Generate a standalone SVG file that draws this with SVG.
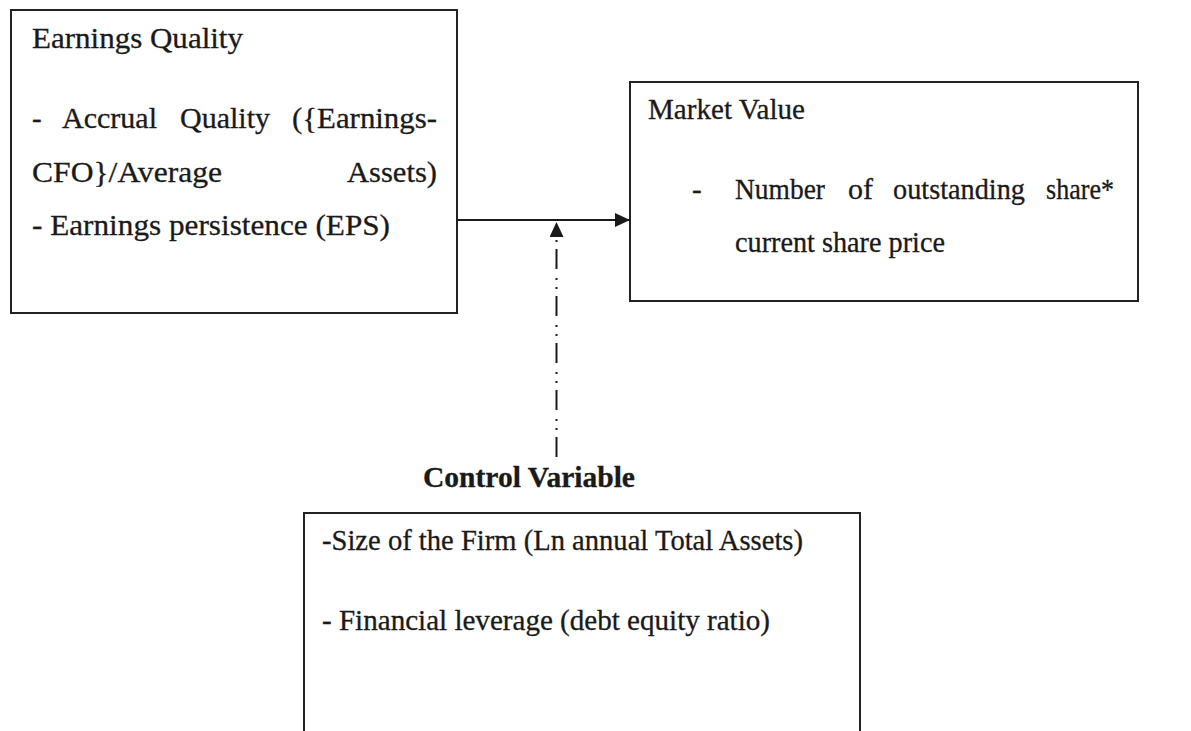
<svg xmlns="http://www.w3.org/2000/svg" width="1191" height="731" viewBox="0 0 1191 731">
  <style>
    .box { fill: none; stroke: #222222; stroke-width: 2; }
    .txt { font-family: "Liberation Serif", "Times New Roman", serif; font-size: 29px; fill: #1a1a1a; stroke: #1a1a1a; stroke-width: 0.3; }
    .bold { font-weight: bold; }
    .link { stroke: #1a1a1a; stroke-width: 2; fill: none; }
  </style>
  <defs>
    <marker id="head" viewBox="0 0 15 14" refX="15" refY="7" markerWidth="15" markerHeight="14" markerUnits="userSpaceOnUse" orient="auto">
      <path d="M0,0 L15,7 L0,14 Z" fill="#1a1a1a"/>
    </marker>
  </defs>
  <rect width="1191" height="731" fill="#ffffff"/>

  <g id="earnings-quality">
    <rect class="box" x="11" y="10" width="446" height="303"/>
    <text class="txt" x="32" y="48" textLength="211" lengthAdjust="spacingAndGlyphs">Earnings Quality</text>
    <text class="txt" x="32" y="128">-</text>
    <text class="txt" x="62" y="128" textLength="95" lengthAdjust="spacingAndGlyphs">Accrual</text>
    <text class="txt" x="180" y="128" textLength="90" lengthAdjust="spacingAndGlyphs">Quality</text>
    <text class="txt" x="292" y="128" textLength="145" lengthAdjust="spacingAndGlyphs">({Earnings-</text>
    <text class="txt" x="32" y="182" textLength="190" lengthAdjust="spacingAndGlyphs">CFO}/Average</text>
    <text class="txt" x="347" y="182" textLength="90" lengthAdjust="spacingAndGlyphs">Assets)</text>
    <text class="txt" x="32" y="235" textLength="358" lengthAdjust="spacingAndGlyphs">- Earnings persistence (EPS)</text>
  </g>

  <g id="market-value">
    <rect class="box" x="630" y="82" width="508" height="219"/>
    <text class="txt" x="648" y="119" textLength="157" lengthAdjust="spacingAndGlyphs">Market Value</text>
    <text class="txt" x="692" y="199">-</text>
    <text class="txt" x="735" y="199" textLength="90" lengthAdjust="spacingAndGlyphs">Number</text>
    <text class="txt" x="848" y="199" textLength="25" lengthAdjust="spacingAndGlyphs">of</text>
    <text class="txt" x="893" y="199" textLength="132" lengthAdjust="spacingAndGlyphs">outstanding</text>
    <text class="txt" x="1046" y="199" textLength="68" lengthAdjust="spacingAndGlyphs">share*</text>
    <text class="txt" x="735" y="252" textLength="210" lengthAdjust="spacingAndGlyphs">current share price</text>
  </g>

  <g id="control-variable">
    <text class="txt bold" x="423" y="487" textLength="212" lengthAdjust="spacingAndGlyphs">Control Variable</text>
    <path class="box" d="M304,740 L304,513 L860,513 L860,740"/>
    <text class="txt" x="322" y="550" textLength="481" lengthAdjust="spacingAndGlyphs">-Size of the Firm (Ln annual Total Assets)</text>
    <text class="txt" x="322" y="630" textLength="448" lengthAdjust="spacingAndGlyphs">- Financial leverage (debt equity ratio)</text>
  </g>

  <g id="connectors">
    <line class="link" x1="457" y1="220" x2="630" y2="220" marker-end="url(#head)"/>
    <line class="link" x1="556.5" y1="457" x2="556.5" y2="222" stroke-dasharray="20 7 2 7 2 9" marker-end="url(#head)"/>
  </g>
</svg>
